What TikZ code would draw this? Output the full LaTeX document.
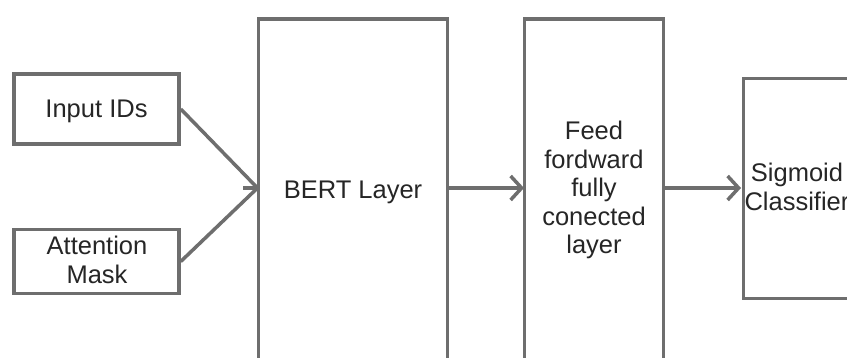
\documentclass[tikz,border=0pt]{standalone}
\usepackage{fontspec}
\setmainfont{Liberation Sans}
\usetikzlibrary{arrows.meta}
\definecolor{ln}{HTML}{6E6E6E}
\definecolor{tx}{HTML}{262626}
\begin{document}
\begin{tikzpicture}[x=1pt,y=-1pt,
  box/.style={draw=ln, line width=3.5pt, fill=white, inner sep=0pt},
  txt/.style={font=\fontsize{25.5}{28.5}\selectfont, text=tx, align=center, inner sep=0pt},
  conn/.style={draw=ln, line width=3.5pt},
  arr/.style={conn, -{Straight Barb[length=11pt,width=24pt]}}]
\useasboundingbox (0,0) rectangle (847,358);
\clip (0,0) rectangle (847,358);
\fill[white] (0,0) rectangle (847,358);
% boxes
\node[box, minimum width=165pt, minimum height=70pt] (ids) at (96.5,109) {};
\node[box, minimum width=165pt, minimum height=64pt] (att) at (96.5,261.5) {};
\node[box, minimum width=189pt, minimum height=420pt, anchor=north] (bert) at (353,17.5) {};
\node[box, minimum width=139pt, minimum height=420pt, anchor=north] (feed) at (594,17.5) {};
\node[box, minimum width=130pt, minimum height=220pt, anchor=west] (sig) at (741.5,188.5) {};
% texts
\node[txt, anchor=base] (idstxt) at (96.5,118) {Input IDs};
\node[txt] (atttxt) at (97,260) {Attention\\Mask};
\node[txt, anchor=base] (berttxt) at (353,198.3) {BERT Layer};
\node[txt] (feedtxt) at (594,190) {Feed\\fordward\\fully\\conected\\layer};
\node[txt] (sigtxt) at (797,187) {Sigmoid\\Classifier};
% connection points
\coordinate (bertin) at (257.5,188);
\coordinate (stub) at (243,188);
\coordinate (bertout) at (447.5,188);
\coordinate (feedin) at (524,188);
\coordinate (feedout) at (663.5,188);
\coordinate (sigin) at (741,188);
% connectors
\draw[conn, line join=miter] (ids.east) -- (bertin) -- (att.east);
\draw[conn] (stub) -- (bertin);
\draw[arr] (bertout) -- (feedin);
\draw[arr] (feedout) -- (sigin);
\end{tikzpicture}
\end{document}
